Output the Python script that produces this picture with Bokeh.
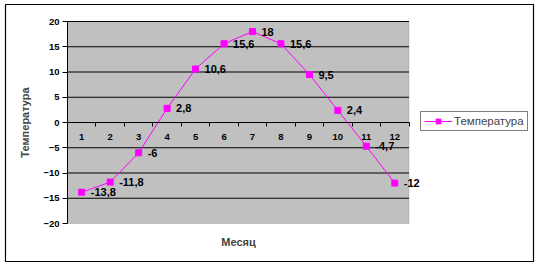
from bokeh.plotting import figure
from bokeh.models import (FixedTicker, Legend, LegendItem, BoxAnnotation, Range1d,
                          LinearAxis)
from bokeh.core.properties import value
from bokeh.embed import file_html
from bokeh.resources import INLINE

# ---- data ----
months = [1, 2, 3, 4, 5, 6, 7, 8, 9, 10, 11, 12]
temps = [-13.8, -11.8, -6, 2.8, 10.6, 15.6, 18, 15.6, 9.5, 2.4, -4.7, -12]
y_ticks = [-20, -15, -10, -5, 0, 5, 10, 15, 20]
series_name = "Температура"
x_title = "Месяц"
y_title = "Температура"

point_labels = [f"{t:g}".replace(".", ",") for t in temps]
minor_x = [m - 0.5 for m in months] + [months[-1] + 0.5]

FONT = "Liberation Sans"

# ---- layout (pixels) ----
W, H = 540, 266
OUT_L, OUT_R, OUT_T, OUT_B = 5, 533, 4, 261       # outer chart border
PA_L, PA_R, PA_T, PA_B = 67, 408.5, 21, 223       # plot area

x_lo, x_hi = months[0] - 0.5, months[-1] + 0.5
y_lo, y_hi = y_ticks[0], y_ticks[-1]
xs = (PA_R - PA_L) / (x_hi - x_lo)
ys = (PA_B - PA_T) / (y_hi - y_lo)
x_range = Range1d(x_lo - (PA_L - OUT_L) / xs, x_hi + (OUT_R - PA_R) / xs)
y_range = Range1d(y_lo - (OUT_B - PA_B) / ys, y_hi + (PA_T - OUT_T) / ys)

p = figure(width=W, height=H, output_backend="svg", toolbar_location=None,
           x_range=x_range, y_range=y_range,
           min_border_left=OUT_L, min_border_right=W - OUT_R,
           min_border_top=OUT_T, min_border_bottom=H - OUT_B)

p.background_fill_color = "white"
p.border_fill_color = "white"
p.outline_line_color = "black"
p.outline_line_width = 1.2
p.xgrid.visible = False
p.ygrid.visible = False

# plot area
p.add_layout(BoxAnnotation(left=x_lo, right=x_hi, bottom=y_lo, top=y_hi,
                           fill_color="#C0C0C0", fill_alpha=1,
                           line_color="#808080", line_width=1, level="underlay"))

# horizontal grid lines at the y ticks
grid_y = y_ticks[1:]
p.segment(x0=[x_lo] * len(grid_y), x1=[x_hi] * len(grid_y), y0=grid_y, y1=grid_y,
          line_color="black", line_width=1)

# y axis at the plot-area left edge
ya = p.yaxis[0]
ya.fixed_location = x_lo
ya.bounds = (y_lo, y_hi)
ya.ticker = FixedTicker(ticks=y_ticks)
ya.axis_line_color = "black"
ya.major_tick_line_color = "black"
ya.major_tick_out = 5
ya.major_tick_in = 0
ya.minor_tick_line_color = None
ya.major_label_standoff = 3
ya.major_label_text_font = FONT
ya.major_label_text_font_style = "bold"
ya.major_label_text_font_size = "9.5px"
ya.major_label_text_color = "black"
ya.axis_label = y_title
ya.axis_label_text_font = FONT
ya.axis_label_text_font_style = "bold"
ya.axis_label_text_font_size = "11px"
ya.axis_label_standoff = 9

# x axis crossing at 0
xa = p.xaxis[0]
xa.fixed_location = 0
xa.bounds = (x_lo, x_hi)
xa.ticker = FixedTicker(ticks=months, minor_ticks=minor_x)
xa.axis_line_color = "black"
xa.major_tick_line_color = None
xa.major_tick_out = 0
xa.major_tick_in = 0
xa.minor_tick_line_color = "black"
xa.minor_tick_out = 4
xa.minor_tick_in = 0
xa.major_label_standoff = 7
xa.major_label_text_font = FONT
xa.major_label_text_font_style = "bold"
xa.major_label_text_font_size = "9.5px"
xa.major_label_text_color = "black"

# x axis title below the plot area
xt = LinearAxis(fixed_location=y_lo, bounds=(x_lo, x_hi),
                ticker=FixedTicker(ticks=[]), axis_line_color=None,
                major_tick_line_color=None, minor_tick_line_color=None,
                major_tick_out=0, major_tick_in=0, minor_tick_out=0,
                axis_label=x_title, axis_label_text_font=FONT,
                axis_label_text_font_style="bold", axis_label_text_font_size="11px",
                axis_label_standoff=12)
p.add_layout(xt, "below")

line = p.line(months, temps, line_color="#FF00FF", line_width=1)
pts = p.scatter(months, temps, marker="square", size=6, fill_color="#FF00FF",
                line_color="#FF00FF")
p.text(x=months, y=temps, text=point_labels, x_offset=9, text_baseline="middle",
       text_align="left", text_font=value(FONT), text_font_style="bold",
       text_font_size="11px", text_color="black")

legend = Legend(items=[LegendItem(label=series_name, renderers=[line, pts])],
                location=(420 - OUT_L, OUT_B - 131),
                border_line_color="black", border_line_width=1,
                background_fill_color="white", background_fill_alpha=1,
                label_text_font=FONT, label_text_font_size="11.5px",
                glyph_width=28, glyph_height=12, padding=3, spacing=0,
                label_standoff=2, margin=0)
p.add_layout(legend, "center")

open("out.html", "w").write(file_html(p, INLINE))
